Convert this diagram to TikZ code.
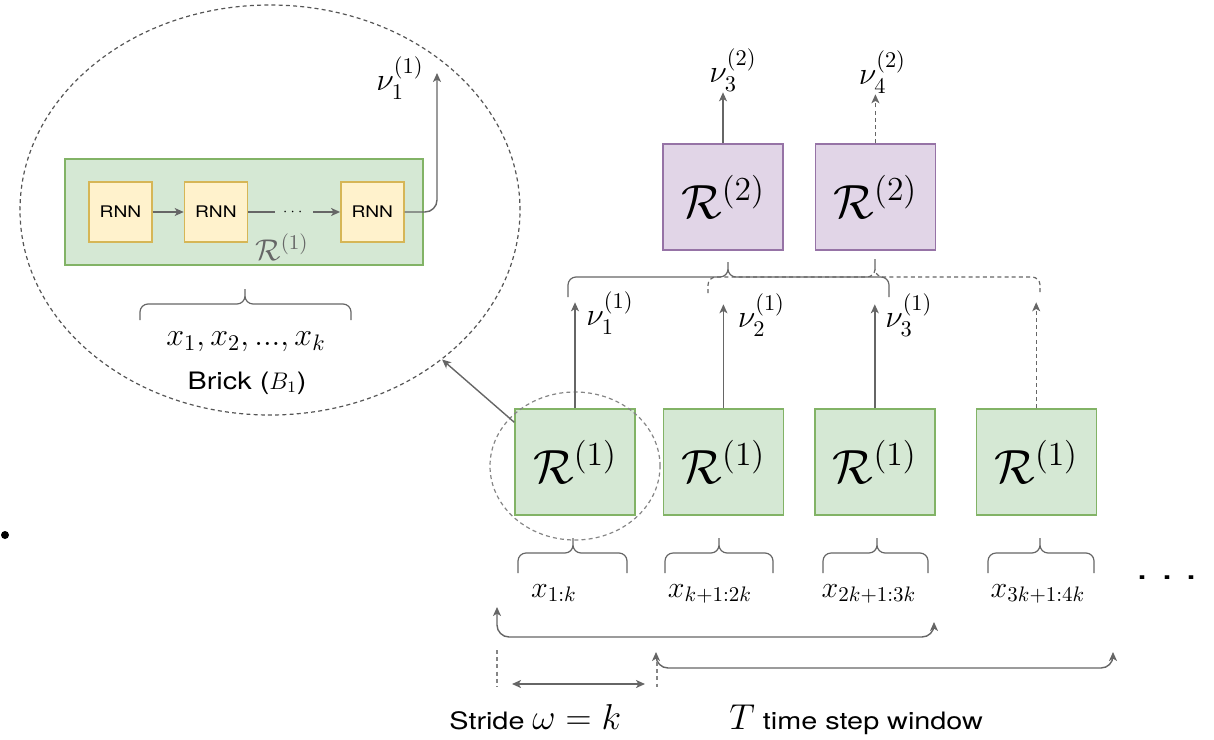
\documentclass[tikz,border=0pt]{standalone}
\usepackage{fix-cm}
\usepackage{amsmath}
\usepackage{fontspec}
\setsansfont{TeX Gyre Heros}[FakeStretch=1.2]
\usetikzlibrary{arrows.meta, positioning, shapes.geometric}
\definecolor{cgreen}{HTML}{d5e8d4}
\definecolor{cgreenline}{HTML}{82b366}
\definecolor{cpurple}{HTML}{e1d5e7}
\definecolor{cpurpleline}{HTML}{9673a6}
\definecolor{cyellow}{HTML}{fff2cc}
\definecolor{cyellowline}{HTML}{d6b656}
\definecolor{cline}{HTML}{666666}
\definecolor{cdash}{HTML}{555555}

\begin{document}
\begin{tikzpicture}[
  x=0.5pt, y=-0.5pt,
  >={Stealth[length=4.5pt, width=4pt, inset=1.2pt]},
  node distance=4mm,
  brick/.style={draw=cgreenline, fill=cgreen, line width=0.7pt, inner sep=0pt,
                minimum width=60pt, minimum height=53pt,
                font=\fontsize{24}{28}\selectfont},
  layer2/.style={brick, draw=cpurpleline, fill=cpurple},
  cell/.style={draw=cyellowline, fill=cyellow, line width=0.7pt, inner sep=0pt,
               minimum width=31.5pt, minimum height=30pt,
               font=\sffamily\fontsize{8}{9}\selectfont},
  arr/.style={->, draw=cline, line width=0.7pt},
  dashline/.style={dash pattern=on 2pt off 1.6pt},
  curly/.style={draw=cline, line width=0.6pt, rounded corners=4pt},
  lbl/.style={inner sep=0pt, font=\fontsize{15}{18}\selectfont},
  nulbl/.style={inner sep=0pt, font=\fontsize{16}{19}\selectfont},
  txt/.style={inner sep=0pt, font=\sffamily\fontsize{12}{14}\selectfont},
  ]
\useasboundingbox (0,0) rectangle (1214,739);
% ---- zoom-in: one brick
\node[draw=cdash, dashline, line width=0.6pt, ellipse, minimum width=250pt,
      minimum height=205pt] (zoom) at (270,210) {};
\node[brick, minimum width=179pt] (wide) at (244,212) {};
\node[cell] (rnn1) at (120.5,212) {RNN};
\node[cell, right=15.5pt of rnn1] (rnn2) {RNN};
\node[cell, right=46pt of rnn2]   (rnn3) {RNN};
\node[lbl, text=black!60] (widelbl) at (282,247) {$\mathcal{R}^{(1)}$};
\coordinate (zout) at (437,73);
\node[nulbl] (zoutlbl) at (400,78) {$\nu_1^{(1)}$};
% brace over the brick inputs
\draw[curly] (140,320) |- (245,304) -- (245,289) (245,289) |- (351,304) -- (351,320);
\node[lbl, font=\fontsize{16}{19}\selectfont] (xs) at (246,342) {$x_1, x_2, ..., x_k$};
\node[txt] (bricklbl) at (247,383) {Brick ($B_1$)};
% arrows inside the brick
\draw[arr] (rnn1) -- (rnn2);
\draw[arr] (rnn2) -- node[fill=cgreen, inner xsep=4pt, inner ysep=1pt,
  font=\fontsize{7}{8}\selectfont] {$\cdots$} (rnn3);
\draw[arr, rounded corners=6pt] (rnn3.east) -| (zout);
% ---- row 1: first-level bricks
\node[brick] (r1a) at (575,462) {$\mathcal{R}^{(1)}$};
\node[brick, right=13.5pt of r1a] (r1b) {$\mathcal{R}^{(1)}$};
\node[brick, right=15pt of r1b]   (r1c) {$\mathcal{R}^{(1)}$};
\node[brick, right=20pt of r1c]   (r1d) {$\mathcal{R}^{(1)}$};
\node[draw=cline!80, dashline, line width=0.6pt, ellipse, minimum width=85pt,
      minimum height=74pt] (focus) at (575,466) {};
\draw[arr] ([yshift=-7pt]r1a.north west) -- (zoom);
% outputs of row 1
\coordinate[above=53pt of r1a.north] (o1);
\coordinate[above=52pt of r1b.north] (o2);
\coordinate[above=52pt of r1c.north] (o3);
\coordinate[above=53pt of r1d.north] (o4);
\draw[arr] (r1a) -- (o1);
\draw[arr] (r1b) -- (o2);
\draw[arr] (r1c) -- (o3);
\draw[arr, dashline] (r1d) -- (o4);
\node[nulbl] (nu11) at ([xshift=17.5pt, yshift=-5.5pt]o1) {$\nu_1^{(1)}$};
\node[nulbl] (nu21) at ([xshift=19pt, yshift=-5.5pt]o2) {$\nu_2^{(1)}$};
\node[nulbl] (nu31) at ([xshift=17pt, yshift=-5.5pt]o3) {$\nu_3^{(1)}$};
% ---- row 2: second-level bricks
\node[layer2] (r2a) at (723,197) {$\mathcal{R}^{(2)}$};
\node[layer2, right=15.5pt of r2a] (r2b) {$\mathcal{R}^{(2)}$};
\coordinate[above=25.5pt of r2a.north] (o5);
\coordinate[above=24.5pt of r2b.north] (o6);
\draw[arr] (r2a) -- (o5);
\draw[arr, dashline] (r2b) -- (o6);
\node[nulbl] (nu32) at ([xshift=5pt, yshift=11pt]o5) {$\nu_3^{(2)}$};
\node[nulbl] (nu42) at ([xshift=3.5pt, yshift=11pt]o6) {$\nu_4^{(2)}$};
% braces grouping row 1 outputs
\draw[curly] (568,297) |- (728,277) -- (728,262) (728,262) |- (889,277) -- (889,297);
\draw[curly, dashline] (708,293) |- (875,277) -- (875,259) (875,259) |- (1040,277) -- (1040,293);
% ---- inputs under row 1
\draw[curly] (518,573) |- (573,553) -- (573,538) (573,538) |- (627,553) -- (627,573);
\draw[curly] (665,573) |- (719,553) -- (719,538) (719,538) |- (773,553) -- (773,573);
\draw[curly] (823,573) |- (877,553) -- (877,538) (877,538) |- (928,553) -- (928,573);
\draw[curly] (988,573) |- (1040,553) -- (1040,538) (1040,538) |- (1094,553) -- (1094,573);
\node[lbl, anchor=base] (x1) at (554,597) {$x_{1:k}$};
\node[lbl, anchor=base] (x2) at (710,597) {$x_{k+1:2k}$};
\node[lbl, anchor=base] (x3) at (869,597) {$x_{2k+1:3k}$};
\node[lbl, anchor=base] (x4) at (1038,597) {$x_{3k+1:4k}$};
\node[inner sep=0pt, font=\sffamily\fontsize{18}{20}\selectfont] (more) at (1167,578) {.\ .\ .};
% ---- sliding windows and stride
\coordinate (w1s) at (497,607);
\coordinate (w1e) at (934,622);
\coordinate (w2s) at (656,652);
\coordinate (w2e) at (1113,652);
\draw[arr, <->, rounded corners=6pt] (w1s) -- ++(0,30) -| (w1e);
\draw[arr, <->, rounded corners=6pt] (w2s) -- ++(0,16) -| (w2e);
\draw[cline!80, dashline, line width=0.6pt] (497,650) -- (497,687);
\draw[cline!80, dashline, line width=0.6pt] (657,662) -- (657,687);
\coordinate (s1) at (512,684);
\coordinate (s2) at (645,684);
\draw[arr, <->, line width=0.9pt] (s1) -- (s2);
\node[txt, anchor=base west] (stride) at (449,729)
  {Stride {\fontsize{18}{20}\selectfont$\omega = k$}};
\node[txt, anchor=base west] (window) at (729,729)
  {{\fontsize{18}{20}\selectfont$T$} time step window};
\node[circle, fill=black, inner sep=0pt, minimum size=4pt] (dot) at (5,535) {};
\end{tikzpicture}
\end{document}
